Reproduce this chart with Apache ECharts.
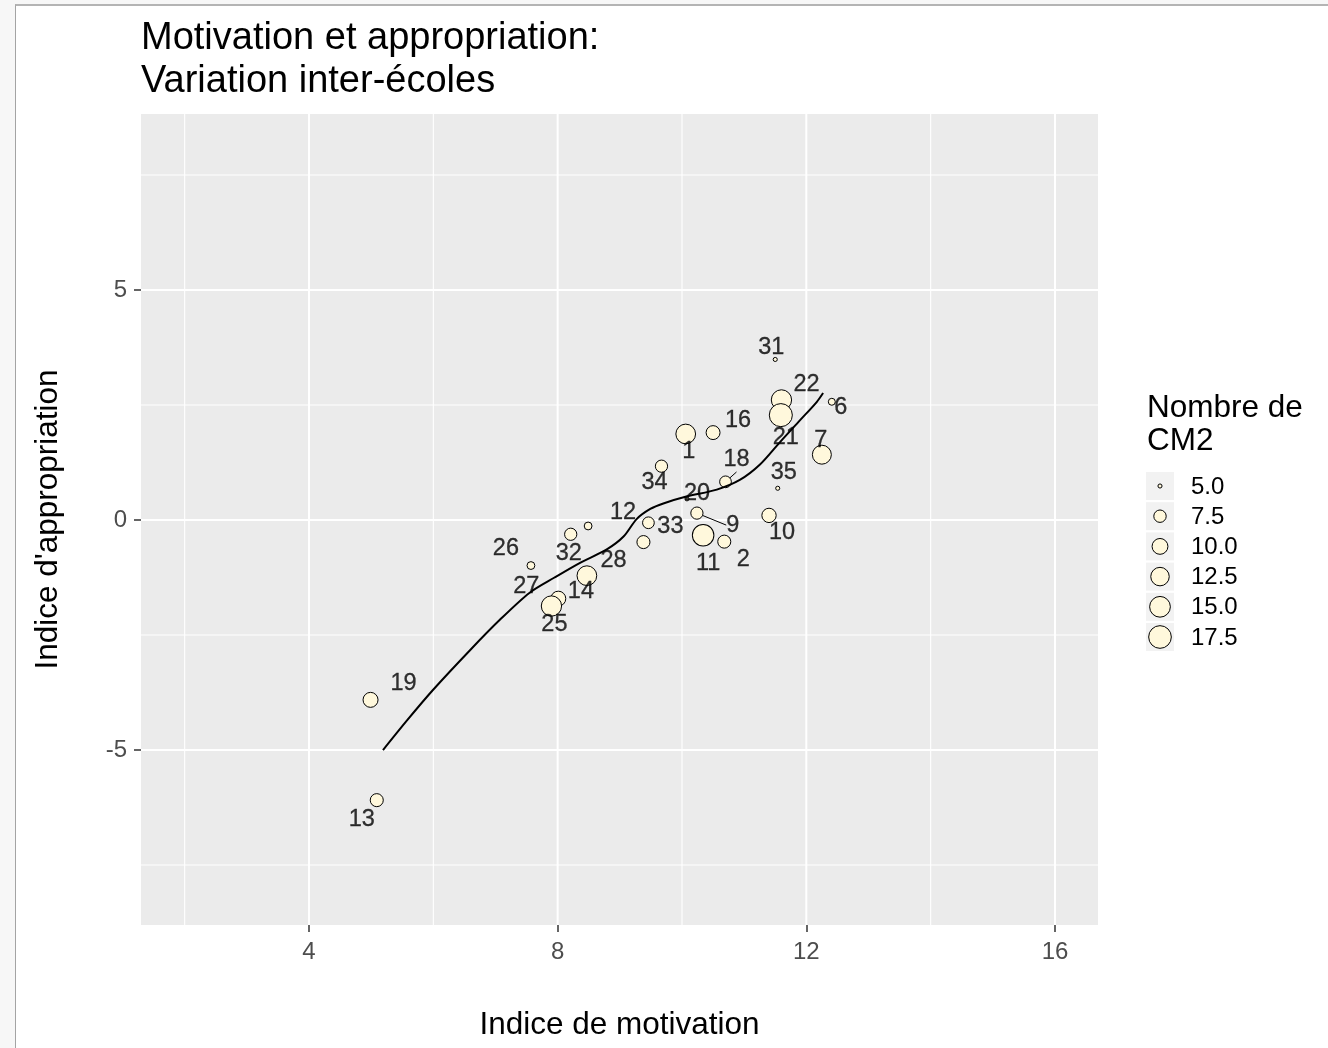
<!DOCTYPE html>
<html>
<head>
<meta charset="utf-8">
<title>Motivation et appropriation</title>
<script src="https://cdn.jsdelivr.net/npm/echarts@6/dist/echarts.min.js"></script>
<style>
  html, body { margin: 0; padding: 0; width: 1328px; height: 1048px; background: #f7f7f7; overflow: hidden; }
  #frame { position: absolute; left: 15px; top: 4px; right: 0; bottom: 0;
           background: #ffffff; border-left: 1px solid #a4a4a4; border-top: 2px solid #b4b4b4; }
  #chart { position: absolute; left: 0; top: 0; width: 1328px; height: 1048px; }
</style>
</head>
<body>
<div id="frame"></div>
<div id="chart"></div>
<script>
// ---- data: one entry per school ----
const schools       = ['31', '22', '21', '6', '16', '1', '7', '34', '18', '35', '20', '9', '10', '11', '2', '33', '28', '12', '32', '26', '14', '27', '25', '19', '13'];
const motivation    = [11.50, 11.60, 11.59, 12.41, 10.50, 10.06, 12.25, 9.67, 10.70, 11.54, 10.08, 10.24, 11.40, 10.34, 10.68, 9.46, 9.38, 8.49, 8.21, 7.57, 8.47, 8.01, 7.90, 4.99, 5.09];
const appropriation = [3.49, 2.61, 2.28, 2.57, 1.90, 1.87, 1.42, 1.17, 0.83, 0.69, 0.46, 0.15, 0.10, -0.33, -0.47, -0.06, -0.48, -0.13, -0.31, -0.99, -1.21, -1.71, -1.87, -3.91, -6.09];
const nbCM2         = [5.0, 14.5, 18.0, 5.3, 8.5, 13.8, 13.0, 7.4, 7.1, 5.0, 5.0, 7.4, 8.8, 16.0, 7.9, 7.1, 7.9, 5.5, 7.4, 5.5, 13.8, 9.3, 14.5, 9.3, 7.9];

// smoothed trend (loess) curve
const smoothX = [5.19, 5.58, 5.99, 6.59, 7.07, 7.55, 7.95, 8.36, 8.79, 9.06, 9.27, 9.49, 9.70, 10.07, 10.56, 10.93, 11.25, 11.58, 11.90, 12.17, 12.27];
const smoothY = [-5.00, -4.35, -3.70, -2.83, -2.17, -1.58, -1.25, -0.93, -0.64, -0.36, 0.02, 0.24, 0.36, 0.51, 0.66, 0.87, 1.20, 1.70, 2.17, 2.57, 2.76];

// axis ticks, grid lines and size legend breaks
const xTicks = [4, 8, 12, 16];
const xMinor = [2, 6, 10, 14];
const yTicks = [-5, 0, 5];
const yMinor = [-7.5, -2.5, 2.5, 7.5];
const sizeBreaks = [5.0, 7.5, 10.0, 12.5, 15.0, 17.5];

// ---- layout (pixels) ----
// label displacement from each point, repel-style, in the order of `schools`
const labelShift = [
  [-4, -12], [25, -15], [5, 22], [9, 6], [25, -12], [3, 18], [-1, -14], [-7, 16], [11, -22], [6, -16],
  [10, -5], [36, 12], [13, 17], [5, 28], [19, 18], [22, 4], [-30, 18], [35, -13], [-2, 19], [-25, -17],
  [-6, 16], [-32, -12], [3, 18], [33, -16], [-15, 19]
];
const withSegment = ['18', '9'];

const X_MIN = 1.2976, X_MAX = 16.692, Y_MIN = -8.804, Y_MAX = 8.826;
const FONT = '"Liberation Sans", Arial, sans-serif';

// area-style size scale: diameter grows with sqrt of the rescaled count
const sMin = Math.min(...nbCM2), sMax = Math.max(...nbCM2);
function diameter(v) {
  const t = Math.max(0, (v - sMin) / (sMax - sMin));
  return 4.1 + 18.95 * Math.sqrt(t);
}

const points = motivation.map((x, i) => [x, appropriation[i], nbCM2[i]]);
const smoothData = smoothX.map((x, i) => [x, smoothY[i]]);

const gridLines = []
  .concat(xTicks.map(v => ({ axis: 'x', value: v, major: true })))
  .concat(xMinor.map(v => ({ axis: 'x', value: v, major: false })))
  .concat(yTicks.map(v => ({ axis: 'y', value: v, major: true })))
  .concat(yMinor.map(v => ({ axis: 'y', value: v, major: false })));

// size legend drawn as graphic elements
const legendTop = 486, legendStep = 30.2;
const legendElements = [{
  type: 'text', x: 1147, y: 392,
  style: { text: 'Nombre de\nCM2', fontSize: 31.5, fontFamily: FONT, fill: '#000', lineHeight: 33, verticalAlign: 'top', align: 'left' }
}];
sizeBreaks.forEach((v, i) => {
  const yc = legendTop + legendStep * i;
  legendElements.push({ type: 'rect', shape: { x: 1146, y: yc - 14, width: 28, height: 28 }, style: { fill: '#F2F2F2' } });
  legendElements.push({ type: 'circle', shape: { cx: 1160, cy: yc, r: diameter(v) / 2 }, style: { fill: '#FFF8DC', stroke: '#000', lineWidth: 1 } });
  legendElements.push({ type: 'text', x: 1191, y: yc + 1, style: { text: v.toFixed(1), fontSize: 24, fontFamily: FONT, fill: '#000', verticalAlign: 'middle', align: 'left' } });
});

const chart = echarts.init(document.getElementById('chart'), null, { renderer: 'canvas' });

chart.setOption({
  animation: false,
  backgroundColor: 'transparent',
  textStyle: { fontFamily: FONT },
  title: {
    text: 'Motivation et appropriation:\nVariation inter-écoles',
    left: 141, top: 17, padding: 0,
    textStyle: { fontSize: 38, fontWeight: 'normal', color: '#000', fontFamily: FONT, lineHeight: 43 }
  },
  grid: {
    left: 141, top: 114, width: 957, height: 811,
    show: true, backgroundColor: '#EBEBEB', borderWidth: 0, containLabel: false
  },
  xAxis: {
    type: 'value', min: X_MIN, max: X_MAX,
    name: 'Indice de motivation', nameLocation: 'middle', nameGap: 84,
    nameTextStyle: { fontSize: 31.5, color: '#000', fontFamily: FONT },
    axisLine: { show: false, onZero: false },
    splitLine: { show: false },
    axisTick: { show: true, customValues: xTicks, length: 7, lineStyle: { color: '#333333', width: 1.5 } },
    axisLabel: { customValues: xTicks, color: '#4D4D4D', fontSize: 24, fontFamily: FONT, margin: 15, lineHeight: 24 }
  },
  yAxis: {
    type: 'value', min: Y_MIN, max: Y_MAX,
    name: "Indice d'appropriation", nameLocation: 'middle', nameGap: 77,
    nameTextStyle: { fontSize: 31.5, color: '#000', fontFamily: FONT },
    axisLine: { show: false, onZero: false },
    splitLine: { show: false },
    axisTick: { show: true, customValues: yTicks, length: 7, lineStyle: { color: '#333333', width: 1.5 } },
    axisLabel: { customValues: yTicks, color: '#4D4D4D', fontSize: 24, fontFamily: FONT, margin: 14 }
  },
  graphic: legendElements,
  series: [
    {
      // white panel grid lines
      type: 'custom', z: 1, silent: true, clip: true,
      data: gridLines.map(() => [X_MIN, 0]),
      renderItem: function (params, api) {
        const g = gridLines[params.dataIndex];
        const cs = params.coordSys;
        let shape;
        if (g.axis === 'x') {
          const p = api.coord([g.value, 0]);
          shape = { x1: p[0], y1: cs.y, x2: p[0], y2: cs.y + cs.height };
        } else {
          const p = api.coord([X_MIN, g.value]);
          shape = { x1: cs.x, y1: p[1], x2: cs.x + cs.width, y2: p[1] };
        }
        return { type: 'line', shape: shape, style: { stroke: '#FFFFFF', lineWidth: g.major ? 2 : 1.1 } };
      }
    },
    {
      // schools, sized by number of CM2 classes
      type: 'scatter', z: 2, silent: true,
      data: points,
      symbolSize: val => diameter(val[2]),
      itemStyle: { color: '#FFF8DC', borderColor: '#000', borderWidth: 1, opacity: 1 }
    },
    {
      // trend curve
      type: 'line', z: 3, silent: true,
      data: smoothData,
      showSymbol: false, symbol: 'none',
      smooth: 0.3,
      lineStyle: { color: '#000', width: 2 }
    },
    {
      // school number labels
      type: 'scatter', z: 4, silent: true,
      data: points.map((p, i) => ({
        value: p,
        labelLine: { show: withSegment.indexOf(schools[i]) >= 0, lineStyle: { color: '#000', width: 1 } }
      })),
      symbolSize: val => diameter(val[2]),
      itemStyle: { color: 'transparent', borderWidth: 0 },
      label: {
        show: true, position: 'inside',
        formatter: p => schools[p.dataIndex],
        color: '#000', fontSize: 23.5, fontFamily: FONT,
        textBorderColor: '#000', textBorderWidth: 0.3
      },
      labelLayout: p => ({ dx: labelShift[p.dataIndex][0], dy: labelShift[p.dataIndex][1] })
    }
  ]
});
</script>
</body>
</html>
